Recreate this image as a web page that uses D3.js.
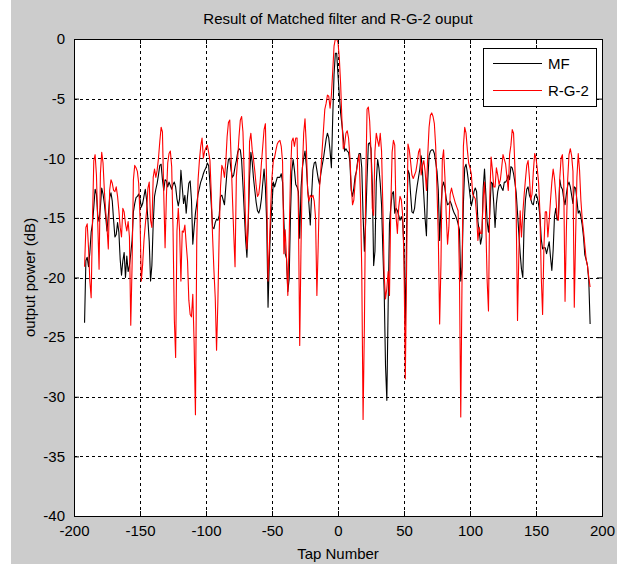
<!DOCTYPE html>
<html>
<head>
<meta charset="utf-8">
<script src="https://cdn.jsdelivr.net/npm/d3@7/dist/d3.min.js"></script>
<style>
  body { margin: 0; background: #ffffff; }
  text { font-family: "Liberation Sans", Arial, Helvetica, sans-serif; }
</style>
</head>
<body>
<div id="chart"></div>
<script>
// Tap numbers (x) and the two output power curves in dB
const tapStart = -192;
const tapEnd = 191;
const taps = d3.range(tapStart, tapEnd + 1);

const mfValues = [
  -23.8, -18.6, -18.3, -19.1, -17.9, -16.2, -15.5, -14.1, -12.6, -13.0,
  -14.8, -15.3, -14.1, -12.5, -13.0, -13.8, -14.9, -16.1, -14.8, -13.3,
  -12.9, -13.6, -15.2, -16.6, -16.4, -15.4, -16.2, -18.5, -19.8, -18.6,
  -17.9, -20.0, -18.2, -19.5, -19.0, -18.0, -16.9, -14.5, -13.8, -13.3,
  -13.2, -13.0, -13.4, -14.1, -13.8, -13.2, -12.6, -13.5, -15.2, -17.0,
  -20.3, -19.0, -15.5, -13.2, -12.6, -12.1, -11.4, -10.6, -10.5, -11.8,
  -12.7, -11.8, -11.9, -12.4, -12.0, -12.3, -12.6, -12.2, -12.0, -12.4,
  -13.4, -14.0, -13.4, -11.0, -12.4, -13.8, -13.1, -14.6, -13.2, -12.1,
  -11.9, -13.5, -17.2, -15.8, -14.6, -13.8, -13.0, -12.5, -12.0, -11.7,
  -11.3, -11.0, -10.8, -10.4, -10.6, -12.1, -13.9, -15.8, -15.9, -15.4,
  -15.1, -15.2, -14.8, -13.2, -13.1, -13.5, -13.9, -12.4, -11.0, -10.1,
  -10.0, -11.0, -11.6, -11.4, -10.7, -10.2, -9.5, -9.2, -9.3, -10.2,
  -12.3, -14.5, -16.8, -18.3, -15.5, -11.6, -9.5, -10.3, -11.7, -12.7,
  -13.7, -14.4, -14.6, -14.2, -13.4, -12.1, -10.9, -12.4, -15.5, -22.5,
  -18.5, -15.5, -13.8, -12.0, -12.4, -12.0, -11.6, -11.6, -11.6, -11.3,
  -12.0, -15.2, -18.0, -18.4, -21.2, -20.1, -14.8, -11.1, -10.1, -11.0,
  -12.2, -12.4, -12.8, -16.7, -12.5, -10.8, -10.0, -9.4, -10.6, -12.5,
  -13.9, -15.6, -13.1, -11.0, -10.4, -10.3, -11.0, -11.7, -12.2, -11.3,
  -10.6, -10.0, -9.2, -8.4, -7.9, -8.3, -9.4, -10.8, -6.6, -3.0,
  -1.2, -1.2, -3.0, -4.7, -6.2, -7.2, -8.2, -9.4, -9.2, -9.4,
  -9.5, -10.3, -12.7, -13.2, -12.5, -11.5, -11.1, -10.1, -9.6, -9.6,
  -10.8, -14.8, -17.8, -15.3, -11.7, -8.8, -8.7, -9.2, -12.2, -19.0,
  -17.8, -12.0, -10.1, -10.8, -12.1, -13.9, -17.8, -21.2, -27.4, -30.3,
  -22.3, -15.5, -14.1, -13.0, -12.8, -14.6, -14.2, -14.4, -14.8, -15.2,
  -14.9, -15.3, -17.7, -24.0, -16.1, -11.0, -11.3, -13.0, -14.5, -14.6,
  -14.2, -13.1, -12.3, -11.6, -10.9, -9.8, -11.1, -13.1, -15.1, -16.5,
  -11.9, -9.8, -9.4, -9.3, -9.3, -9.6, -10.3, -11.1, -12.7, -16.9,
  -14.1, -12.4, -12.0, -12.5, -13.4, -13.9, -13.8, -13.6, -13.9, -14.3,
  -14.6, -14.8, -15.1, -15.5, -16.0, -20.3, -19.1, -13.8, -10.8, -10.5,
  -11.2, -12.1, -13.1, -14.0, -13.5, -12.8, -12.5, -12.8, -15.3, -16.1,
  -17.2, -16.6, -12.5, -10.9, -13.0, -15.3, -16.2, -14.6, -12.0, -12.1,
  -13.8, -15.8, -13.8, -12.8, -12.3, -12.2, -12.5, -12.7, -12.0, -12.0,
  -11.8, -11.4, -11.8, -10.7, -10.8, -11.3, -12.0, -12.9, -14.6, -16.3,
  -18.0, -19.3, -20.0, -15.5, -13.5, -12.6, -12.4, -13.1, -13.4, -13.8,
  -13.9, -13.2, -13.0, -13.3, -13.9, -14.9, -16.8, -17.6, -17.5, -17.5,
  -18.0, -17.5, -17.0, -18.3, -19.4, -17.7, -14.9, -14.2, -15.2, -14.9,
  -11.8, -12.4, -12.6, -13.4, -13.9, -13.0, -12.3, -12.0, -12.4, -13.1,
  -13.8, -12.4, -12.5, -13.5, -14.6, -14.4, -14.9, -15.6, -16.6, -18.1,
  -18.5, -19.0, -20.3, -23.9
];

const rg2Values = [
  -19.1, -15.8, -15.5, -17.5, -20.3, -21.7, -15.2, -10.2, -9.7, -11.4,
  -15.5, -19.3, -11.3, -9.5, -10.4, -12.7, -14.4, -15.8, -17.6, -12.7,
  -11.8, -12.1, -12.7, -12.8, -12.4, -13.2, -14.4, -15.8, -16.6, -14.2,
  -14.5, -15.5, -16.1, -15.3, -16.6, -24.0, -19.0, -11.8, -10.6, -10.8,
  -11.1, -12.1, -14.9, -20.3, -18.9, -16.9, -15.6, -14.4, -12.5, -12.0,
  -15.2, -15.8, -11.6, -10.9, -11.6, -11.0, -10.0, -8.6, -7.4, -7.8,
  -13.0, -17.5, -13.2, -10.4, -9.6, -9.4, -10.7, -15.8, -23.5, -26.7,
  -16.1, -14.2, -16.1, -20.3, -16.1, -16.2, -15.6, -17.2, -18.6, -21.9,
  -23.1, -23.3, -21.4, -25.5, -31.5, -16.9, -11.8, -10.2, -9.0, -8.3,
  -10.0, -9.4, -9.1, -8.9, -9.5, -10.2, -13.0, -16.6, -19.4, -21.7,
  -26.1, -22.0, -16.3, -12.4, -10.6, -10.9, -11.6, -10.3, -8.2, -7.0,
  -6.8, -9.9, -13.2, -16.3, -19.1, -11.6, -10.0, -8.2, -6.8, -6.5,
  -7.8, -11.6, -15.5, -17.6, -15.2, -8.6, -7.9, -9.3, -10.1, -11.1,
  -12.3, -13.2, -13.0, -12.0, -10.4, -9.0, -7.6, -7.1, -12.4, -20.3,
  -17.5, -14.1, -11.6, -10.2, -9.9, -9.3, -8.8, -8.6, -8.5, -9.0,
  -10.3, -18.0, -16.0, -18.4, -21.5, -16.7, -11.4, -8.6, -8.3, -9.0,
  -8.3, -8.3, -14.5, -25.7, -17.3, -11.1, -7.9, -6.7, -8.9, -12.8,
  -13.6, -13.1, -13.3, -13.1, -13.6, -15.0, -21.5, -17.3, -12.5, -11.0,
  -9.3, -7.6, -5.9, -5.4, -4.7, -4.8, -5.8, -4.7, -2.7, -0.6,
  0.0, 0.0, -0.3, -1.6, -3.8, -6.9, -9.2, -8.9, -7.9, -7.7,
  -8.3, -9.9, -12.2, -13.9, -13.5, -12.0, -11.0, -10.3, -9.7, -13.1,
  -19.5, -31.9, -24.0, -12.2, -5.9, -5.7, -6.9, -9.4, -14.2, -14.8,
  -9.4, -7.9, -8.5, -9.0, -7.9, -9.4, -14.2, -19.8, -21.8, -20.9,
  -19.5, -21.5, -14.1, -9.5, -8.5, -8.9, -14.9, -16.3, -14.1, -13.2,
  -13.5, -14.8, -18.6, -28.5, -18.9, -8.8, -9.3, -10.3, -11.4, -11.7,
  -11.4, -11.1, -10.4, -9.5, -9.2, -11.4, -10.6, -10.2, -11.1, -12.7,
  -9.7, -7.4, -6.4, -6.2, -6.5, -7.1, -9.0, -12.7, -16.6, -23.9,
  -18.9, -10.2, -9.3, -11.6, -14.8, -17.2, -15.8, -13.0, -12.5, -13.0,
  -13.4, -13.8, -14.1, -14.4, -19.7, -31.7, -19.7, -9.0, -7.4, -7.9,
  -9.3, -10.4, -10.8, -11.3, -13.0, -13.2, -13.4, -14.8, -16.9, -15.8,
  -16.3, -16.3, -13.4, -12.0, -15.5, -20.3, -22.8, -13.2, -9.9, -11.0,
  -12.4, -12.4, -10.8, -11.4, -12.2, -11.8, -10.8, -9.7, -10.1, -10.5,
  -11.6, -12.7, -9.7, -8.9, -7.6, -7.9, -10.7, -14.6, -23.6, -18.0,
  -14.4, -16.6, -14.6, -13.1, -11.8, -10.6, -10.2, -11.6, -13.5, -13.0,
  -11.1, -9.6, -10.0, -10.9, -12.1, -14.6, -20.0, -23.1, -17.5, -14.5,
  -14.5, -16.6, -15.2, -13.5, -12.0, -10.9, -11.7, -13.1, -14.9, -15.2,
  -11.7, -10.0, -9.7, -11.8, -22.0, -16.1, -11.8, -9.7, -9.2, -9.8,
  -11.1, -22.5, -16.6, -11.6, -9.6, -11.0, -13.5, -15.1, -16.1, -17.3,
  -18.5, -19.0, -20.0, -20.8
];

const xTicks = [-200, -150, -100, -50, 0, 50, 100, 150, 200];
const yTicks = [0, -5, -10, -15, -20, -25, -30, -35, -40];
const seriesNames = ['MF', 'R-G-2'];
const seriesColors = ['#000000', '#ff0000'];

const width = 621;
const height = 564;
const margin = { top: 39, right: 19, bottom: 48, left: 74 };
const plotW = width - margin.left - margin.right;
const plotH = height - margin.top - margin.bottom;

const svg = d3.select('#chart')
    .append('svg')
    .attr('width', width)
    .attr('height', height);

// Figure background (MATLAB grey)
svg.append('rect')
    .attr('x', 11)
    .attr('y', 0)
    .attr('width', 606)
    .attr('height', height)
    .attr('fill', '#cccccc');

const x = d3.scaleLinear().domain([-200, 200]).range([0, plotW]);
const y = d3.scaleLinear().domain([-40, 0]).range([plotH, 0]);

const g = svg.append('g')
    .attr('transform', `translate(${margin.left},${margin.top})`);

g.append('rect')
    .attr('width', plotW)
    .attr('height', plotH)
    .attr('fill', '#ffffff');

// Dotted grid
const grid = g.append('g')
    .attr('stroke', '#000')
    .attr('stroke-width', 1)
    .attr('stroke-dasharray', '3,3')
    .attr('shape-rendering', 'crispEdges');

grid.selectAll('.gx')
    .data(xTicks.slice(1, -1))
    .enter().append('line')
    .attr('x1', d => Math.round(x(d)) + 0.5)
    .attr('x2', d => Math.round(x(d)) + 0.5)
    .attr('y1', 0)
    .attr('y2', plotH);

grid.selectAll('.gy')
    .data(yTicks.slice(1, -1))
    .enter().append('line')
    .attr('y1', d => Math.round(y(d)) + 0.5)
    .attr('y2', d => Math.round(y(d)) + 0.5)
    .attr('x1', 0)
    .attr('x2', plotW);

// Data lines
g.append('clipPath')
    .attr('id', 'plot-clip')
    .append('rect')
    .attr('width', plotW)
    .attr('height', plotH);

const line = d3.line()
    .x((d, i) => x(taps[i]))
    .y(d => y(d));

const lines = g.append('g').attr('clip-path', 'url(#plot-clip)');

[mfValues, rg2Values].forEach((values, k) => {
    lines.append('path')
        .datum(values)
        .attr('fill', 'none')
        .attr('stroke', seriesColors[k])
        .attr('stroke-width', 1.1)
        .attr('stroke-linejoin', 'round')
        .attr('d', line);
});

// Axes: ticks inside on all four sides, plain hyphen minus like MATLAB
const tickLen = 5;
const fmt = d => String(d);
const xAxisB = d3.axisBottom(x).tickValues(xTicks).tickSize(-tickLen).tickPadding(9).tickFormat(fmt);
const xAxisT = d3.axisTop(x).tickValues(xTicks).tickSize(-tickLen).tickFormat('');
const yAxisL = d3.axisLeft(y).tickValues(yTicks).tickSize(-tickLen).tickPadding(9).tickFormat(fmt);
const yAxisR = d3.axisRight(y).tickValues(yTicks).tickSize(-tickLen).tickFormat('');

const styleAxis = sel => {
    sel.select('.domain').remove();
    sel.selectAll('line').attr('stroke', '#000');
    sel.selectAll('text')
        .attr('fill', '#000')
        .style('font-size', '15px');
};

g.append('g').attr('transform', `translate(0,${plotH})`).call(xAxisB).call(styleAxis);
g.append('g').call(xAxisT).call(styleAxis);
g.append('g').call(yAxisL).call(styleAxis);
g.append('g').attr('transform', `translate(${plotW},0)`).call(yAxisR).call(styleAxis);

g.append('rect')
    .attr('x', 0.5)
    .attr('y', 0.5)
    .attr('width', plotW)
    .attr('height', plotH)
    .attr('fill', 'none')
    .attr('stroke', '#000')
    .attr('stroke-width', 1);

// Title and axis labels
svg.append('text')
    .attr('x', margin.left + plotW / 2)
    .attr('y', 24)
    .attr('text-anchor', 'middle')
    .style('font-size', '15px')
    .text('Result of Matched filter and R-G-2 ouput');

svg.append('text')
    .attr('x', margin.left + plotW / 2)
    .attr('y', 559)
    .attr('text-anchor', 'middle')
    .style('font-size', '15px')
    .text('Tap Number');

svg.append('text')
    .attr('transform', `translate(35,${margin.top + plotH / 2}) rotate(-90)`)
    .attr('text-anchor', 'middle')
    .style('font-size', '15px')
    .text('output power (dB)');

// Legend
const legend = svg.append('g').attr('transform', 'translate(483,48)');
legend.append('rect')
    .attr('x', 0.5)
    .attr('y', 0.5)
    .attr('width', 113)
    .attr('height', 58)
    .attr('fill', '#fff')
    .attr('stroke', '#000');

seriesNames.forEach((name, k) => {
    const ly = 15.5 + k * 27;
    legend.append('line')
        .attr('x1', 10)
        .attr('x2', 59)
        .attr('y1', ly)
        .attr('y2', ly)
        .attr('stroke', seriesColors[k])
        .attr('stroke-width', 1);
    legend.append('text')
        .attr('x', 65)
        .attr('y', ly + 5)
        .style('font-size', '15px')
        .text(name);
});
</script>
</body>
</html>
